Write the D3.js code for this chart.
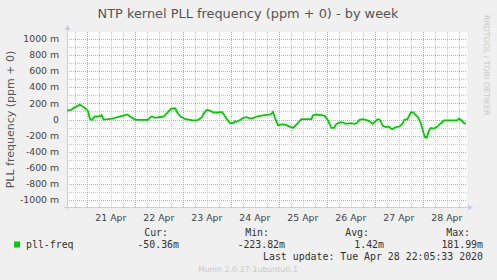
<!DOCTYPE html>
<html>
<head>
<meta charset="utf-8">
<script src="https://cdn.jsdelivr.net/npm/d3@7"></script>
<style>
  body { margin: 0; background: #f0f0f0; }
  svg { display: block; }
</style>
</head>
<body>
<div id="chart"></div>
<script>
// basic setup
var width = 497,
    height = 280,
    margin = {top: 32, right: 30, bottom: 73, left: 67};

// data: hours since window start, value in milli-ppm
var hours = [0, 1.9, 3.5, 5.2, 6.5, 7.7, 8.9, 10.5, 11.5, 12.5, 13.9, 15.2, 16.9, 17.3, 18.3, 20.5,
  22.7, 25.2, 27.7, 30.2, 31.9, 33.2, 34.2, 40.5, 41.7, 42.5, 44.2, 45.9, 48.4, 50.9, 52.2, 54.2,
  55, 56.7, 59.2, 61.7, 62.5, 65, 67.5, 68.2, 69.9, 71.5, 73.2, 75.7, 77.4, 78.2, 79.9, 81.5,
  83.2, 84, 84.9, 86.5, 88.2, 89.9, 91.5, 93.2, 94.9, 96.5, 99, 101.5, 102.2, 103, 104.2, 105.5,
  107.2, 108.9, 110.5, 113, 114.7, 117.2, 122.2, 123, 124.7, 127.2, 128.9, 130.5, 132.2, 133.5,
  134.7, 136.2, 137.9, 139.5, 142, 143.7, 144.9, 146.2, 147.9, 149.5, 151.2, 152.9, 154.2, 155.4,
  156.5, 157.9, 159.5, 160.9, 162.5, 164.5, 166.2, 167.9, 168.5, 170.2, 171.9, 173.2, 174.4, 175.5,
  176.9, 178.2, 179, 179.9, 181, 181.9, 183.5, 185.2, 186.9, 188.5, 193.5, 195.2, 196, 197.2,
  198.5, 199.5];
var pllFreq = [111, 119, 144, 169, 182, 165, 144, 103, 4, -5, 37, 37, 45, 55, 0, 4,
  12, 28, 45, 62, 32, 12, -5, -5, 28, 37, 20, 28, 37, 103, 136, 136,
  94, 37, 4, -5, -12, -12, 28, 70, 119, 111, 87, 87, 94, 70, 4, -46,
  -46, -21, -28, -5, 20, 28, 12, 20, 37, 45, 53, 62, 70, 94, 4, -70,
  -62, -62, -79, -104, -62, 4, 4, 53, 62, 53, 45, -12, -104, -104,
  -54, -37, -37, -54, -46, -54, -46, -5, 4, -5, -21, -54, -21, 4,
  -5, -79, -95, -87, -120, -95, -87, -46, -5, 4, 87, 87, 53, 28,
  -46, -161, -219, -224, -136, -104, -112, -87, -46, -12, -12, -12, 12, -12,
  -46, -50];

var yTicks = [-1000, -800, -600, -400, -200, 0, 200, 400, 600, 800, 1000];
var legendHeads = ["Cur:", "Min:", "Avg:", "Max:"];
var legendVals = ["-50.36m", "-223.82m", "1.42m", "181.99m"];

var endTime = new Date(2020, 3, 28, 22, 5, 33);
var startTime = new Date(endTime.getTime() - 200 * 3600 * 1000);

var data = hours.map(function(h, i) {
  return {t: new Date(startTime.getTime() + h * 3600 * 1000), v: pllFreq[i]};
});

var svg = d3.select("#chart").append("svg")
  .attr("width", width)
  .attr("height", height)
  .style("font-family", "'DejaVu Sans', sans-serif");

var x0 = margin.left, x1 = width - margin.right,
    y0 = margin.top, y1 = height - margin.bottom;

var x = d3.scaleTime().domain([startTime, endTime]).range([x0, x1]);
var y = d3.scaleLinear().domain([-1084, 1084]).range([y1, y0]);

// plot area
svg.append("rect")
  .attr("x", x0).attr("y", y0)
  .attr("width", x1 - x0).attr("height", y1 - y0)
  .style("fill", "#fff");

var px = function(v) { return Math.round(v) + 0.5; };

// minor grid
var minorH = d3.range(-1000, 1001, 100).filter(function(v) { return v % 200 !== 0; });
svg.selectAll(".hminor").data(minorH).enter().append("line")
  .attr("x1", x0).attr("x2", x1)
  .attr("y1", function(d) { return px(y(d)); })
  .attr("y2", function(d) { return px(y(d)); })
  .style("stroke", "#c8c8c8").style("stroke-dasharray", "1,1");

var minorV = d3.timeHour.every(6).range(startTime, endTime)
  .filter(function(d) { return d.getHours() !== 0; });
svg.selectAll(".vminor").data(minorV).enter().append("line")
  .attr("y1", y0).attr("y2", y1)
  .attr("x1", function(d) { return px(x(d)); })
  .attr("x2", function(d) { return px(x(d)); })
  .style("stroke", "#c8c8c8").style("stroke-dasharray", "1,1");

// major grid
svg.selectAll(".hmajor").data(yTicks).enter().append("line")
  .attr("x1", x0).attr("x2", x1)
  .attr("y1", function(d) { return px(y(d)); })
  .attr("y2", function(d) { return px(y(d)); })
  .style("stroke", "#eb9a9a").style("stroke-dasharray", "1,1");

var days = d3.timeDay.range(startTime, endTime);
svg.selectAll(".vmajor").data(days).enter().append("line")
  .attr("y1", y0).attr("y2", y1)
  .attr("x1", function(d) { return px(x(d)); })
  .attr("x2", function(d) { return px(x(d)); })
  .style("stroke", "#eb9a9a").style("stroke-dasharray", "1,1");

// axes (rrd style, light blue with arrows)
var axisColor = "#c5cdf5";
svg.append("line").attr("x1", x0 - 3).attr("x2", x1 + 2)
  .attr("y1", px(y1)).attr("y2", px(y1)).style("stroke", axisColor);
svg.append("path").attr("d", "M" + (x1 + 6) + "," + px(y1) + "l-5,-3v6z").style("fill", axisColor);
svg.append("line").attr("x1", px(x0)).attr("x2", px(x0))
  .attr("y1", y1 + 3).attr("y2", y0 - 3).style("stroke", axisColor);
svg.append("path").attr("d", "M" + px(x0) + "," + (y0 - 7) + "l-3,5h6z").style("fill", axisColor);

// y labels
svg.selectAll(".ylab").data(yTicks).enter().append("text")
  .attr("x", x0 - 8)
  .attr("y", function(d) { return y(d); })
  .attr("dy", "0.35em")
  .style("text-anchor", "end")
  .style("font-size", "9.3px")
  .style("fill", "#444")
  .text(function(d) { return d === 0 ? "0" : d + " m"; });

// x labels at noon
svg.selectAll(".xlab").data(days).enter().append("text")
  .attr("x", function(d) { return x(d3.timeHour.offset(d, 12)); })
  .attr("y", y1 + 14)
  .style("text-anchor", "middle")
  .style("font-size", "9.4px")
  .style("fill", "#444")
  .text(d3.timeFormat("%d %b"));

// series
var line = d3.line()
  .x(function(d) { return x(d.t); })
  .y(function(d) { return y(d.v); });

svg.append("path")
  .datum(data)
  .attr("d", line)
  .style("fill", "none")
  .style("stroke", "#00cc00")
  .style("stroke-width", 1.8);

// title and labels
svg.append("text")
  .attr("x", 248).attr("y", 18)
  .style("text-anchor", "middle")
  .style("font-size", "12.9px")
  .style("fill", "#555")
  .text("NTP kernel PLL frequency (ppm + 0) - by week");

svg.append("text")
  .attr("transform", "translate(14," + y(0) + ") rotate(-90)")
  .style("text-anchor", "middle")
  .style("font-size", "11px")
  .style("fill", "#555")
  .text("PLL frequency (ppm + 0)");

svg.append("text")
  .attr("transform", "translate(484,15) rotate(90)")
  .style("font-size", "7.8px")
  .style("fill", "#c8c8c8")
  .text("RRDTOOL / TOBI OETIKER");

// legend
var mono = "'DejaVu Sans Mono', monospace";
svg.append("rect")
  .attr("x", 14).attr("y", 241.5).attr("width", 6).attr("height", 6)
  .style("fill", "#00cc00");
svg.append("text")
  .attr("x", 26).attr("y", 247.5)
  .style("font-family", mono).style("font-size", "9.9px").style("fill", "#333")
  .text("pll-freq");

var headEnds = [168, 269, 369, 470];
var valEnds = [179, 285, 384, 483];
svg.selectAll(".lhead").data(legendHeads).enter().append("text")
  .attr("x", function(d, i) { return headEnds[i]; })
  .attr("y", 236)
  .style("text-anchor", "end")
  .style("font-family", mono).style("font-size", "9.9px").style("fill", "#333")
  .text(function(d) { return d; });
svg.selectAll(".lval").data(legendVals).enter().append("text")
  .attr("x", function(d, i) { return valEnds[i]; })
  .attr("y", 247.5)
  .style("text-anchor", "end")
  .style("font-family", mono).style("font-size", "9.9px").style("fill", "#333")
  .text(function(d) { return d; });

svg.append("text")
  .attr("x", 483).attr("y", 260)
  .style("text-anchor", "end")
  .style("font-family", mono).style("font-size", "9.9px").style("fill", "#333")
  .text("Last update: Tue Apr 28 22:05:33 2020");

svg.append("text")
  .attr("x", 248).attr("y", 272)
  .style("text-anchor", "middle")
  .style("font-size", "7.9px")
  .style("fill", "#c8c8c8")
  .text("Munin 2.0.37-1ubuntu0.1");
</script>
</body>
</html>
